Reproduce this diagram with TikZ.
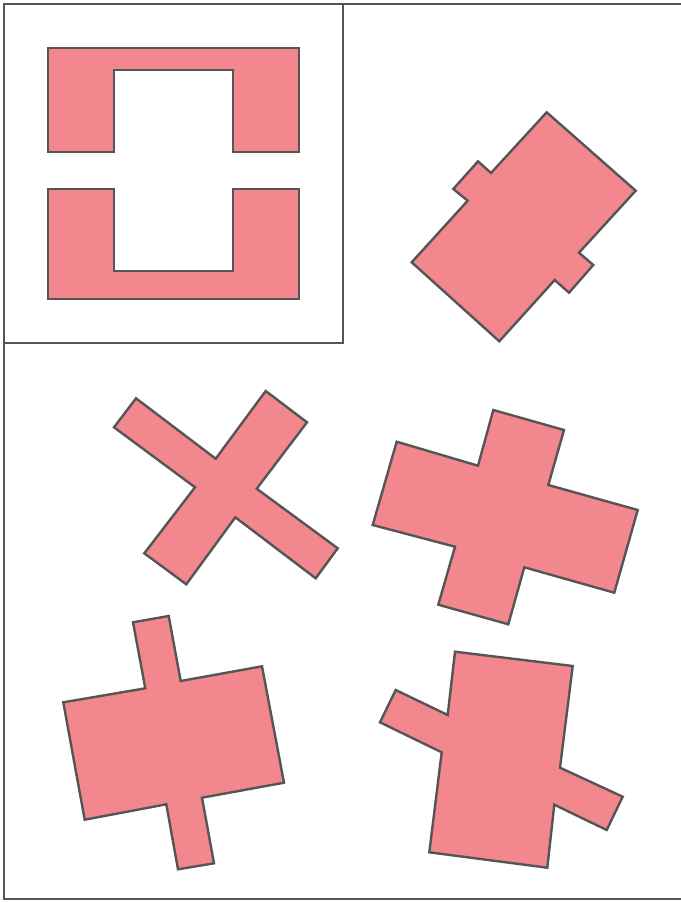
\documentclass[tikz,border=0pt]{standalone}
\usepackage{tikz}
\definecolor{piecefill}{RGB}{242,135,141}
\definecolor{edgegray}{RGB}{85,85,85}

\begin{document}
\begin{tikzpicture}[
        x=1pt, y=-1pt,
        frame/.style={
            draw=edgegray,
            line width=2pt
        },
        piece/.style={
            draw=edgegray,
            fill=piecefill,
            line width=2.4pt,
            line join=miter
        }
    ]
        \useasboundingbox (0,0) rectangle (680,902);

        % frames
        \draw[frame] (4,4) rectangle (684,899);
        \draw[frame] (4,343) -- (343,343) -- (343,4);

        % the two brackets
        \draw[piece] (48,48) -- (299,48) -- (299,152) -- (233,152)
            -- (233,70) -- (114,70) -- (114,152) -- (48,152) -- cycle;
        \draw[piece] (48,189) -- (114,189) -- (114,271) -- (233,271)
            -- (233,189) -- (299,189) -- (299,299) -- (48,299) -- cycle;

        % tilted block with tabs
        \draw[piece] (546.7,112.3) -- (635.7,190.7) -- (579,252.7) -- (593.3,265)
            -- (569,292.7) -- (554.7,280) -- (499.3,341.3) -- (411.7,262.3)
            -- (467.7,200.7) -- (453.3,189) -- (478,161.3) -- (491,173) -- cycle;

        % cross
        \draw[piece] (136,398.3) -- (215.7,458.7) -- (265.7,391) -- (307,422.3)
            -- (256.7,488.7) -- (337.7,548.3) -- (315.7,578.3) -- (235.3,517.3)
            -- (186.3,584.3) -- (144.3,553.3) -- (195,487.3) -- (114,427.3) -- cycle;

        % plus
        \draw[piece] (493.3,410) -- (564,430) -- (548.3,485) -- (637.7,510)
            -- (614.3,592.7) -- (524.3,567.3) -- (508.3,624.3) -- (438.3,604.7)
            -- (455,546.7) -- (372.7,525) -- (396.7,441.7) -- (478,465.7) -- cycle;

        % block with thin stems
        \draw[piece] (133,622.3) -- (168.7,616) -- (180.7,681) -- (262,666.3)
            -- (284,782.7) -- (202,797.7) -- (214,863.3) -- (178,869.3)
            -- (166.3,804.3) -- (84.7,819.7) -- (63.3,702.3) -- (145.3,688.3) -- cycle;

        % block with side arms
        \draw[piece] (455,651.7) -- (572.7,666) -- (560,767.7) -- (622.7,796.7)
            -- (606.7,830) -- (554.3,804.7) -- (547.3,867.7) -- (429.3,852.3)
            -- (441.7,752.3) -- (380,722.3) -- (395.7,690) -- (447.7,715) -- cycle;
    \end{tikzpicture}
\end{document}
